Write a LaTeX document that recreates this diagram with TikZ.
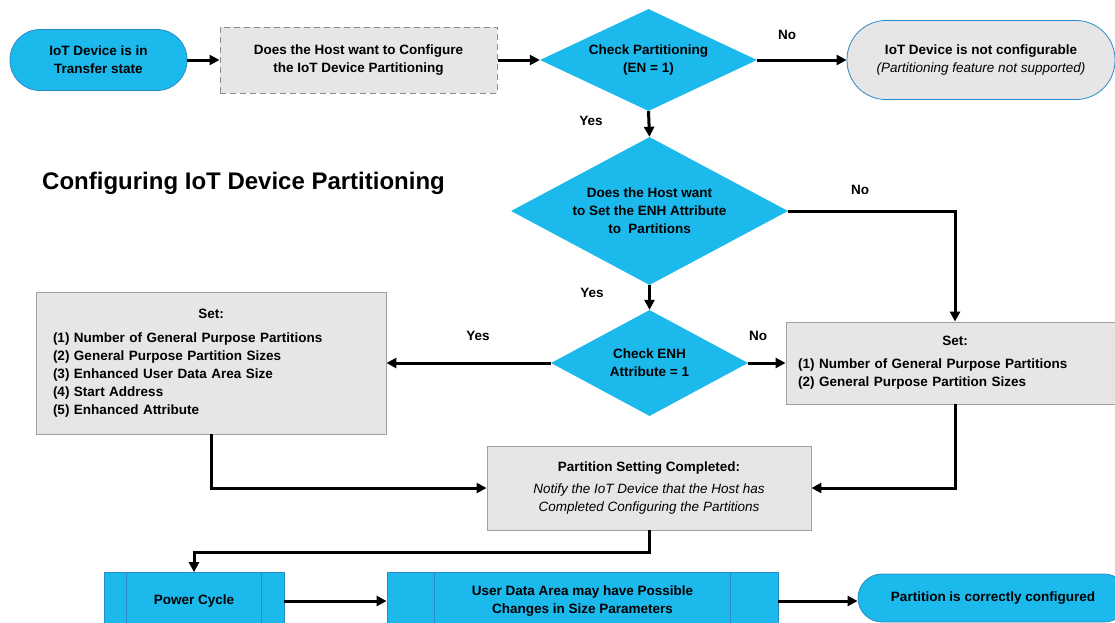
\documentclass[tikz,border=0pt]{standalone}
\usepackage{fontspec}
\setmainfont{Liberation Sans}
\newfontfamily\titlefont{Liberation Sans}
\usetikzlibrary{shapes.geometric,arrows.meta}
\definecolor{cblue}{RGB}{27,185,236}
\definecolor{cblueb}{RGB}{40,140,200}
\definecolor{cgray}{RGB}{230,230,230}
\definecolor{cgrayb}{RGB}{160,160,160}
\definecolor{cdash}{RGB}{140,140,140}
\begin{document}
\begin{tikzpicture}[x=1pt,y=-1pt,
  every node/.style={font=\fontsize{13.5}{18}\selectfont\bfseries, inner sep=0pt},
  term/.style={draw=cblueb, line width=0.8pt, fill=cblue, rounded corners=30pt, align=center},
  gterm/.style={draw=cblueb, line width=0.8pt, fill=cgray, rounded corners=39pt, align=center},
  dbox/.style={draw=cdash, dash pattern=on 6pt off 4pt, line width=1pt, fill=cgray, align=center},
  gbox/.style={draw=cgrayb, line width=0.9pt, fill=cgray},
  dia/.style={diamond, fill=cblue, align=center},
  pbox/.style={draw=cblueb, line width=0.8pt, fill=cblue, align=center},
  conn/.style={line width=3pt, -{Triangle[length=10pt,width=10pt]}},
  lbl/.style={font=\fontsize{13.5}{18}\selectfont\bfseries}
]
\useasboundingbox (0,0) rectangle (1115,622);
\fill[white] (0,0) rectangle (1115,622);
\clip (0,0) rectangle (1115,622);

\node[term, minimum width=177pt, minimum height=61pt] (start) at (98.5,60) {IoT Device is in\\Transfer state};
\node[dbox, minimum width=277pt, minimum height=66pt] (q1) at (358.5,60) {Does the Host want to Configure\\the IoT Device Partitioning};
\node[dia, aspect=2.13, minimum width=217pt, minimum height=102pt] (d1) at (648.5,60) {Check Partitioning\\(EN = 1)};
\node[gterm, minimum width=268pt, minimum height=79pt] (nc) at (981,60) {IoT Device is not configurable\\{\mdseries\itshape (Partitioning feature not supported)}};

\node[anchor=base west, font=\titlefont\fontsize{24}{28}\selectfont\bfseries] (title) at (42,189) {Configuring IoT Device Partitioning};

\node[dia, aspect=1.87, minimum width=277pt, minimum height=148pt] (d2) at (649.5,211) {Does the Host want\\to Set the ENH Attribute\\to~~Partitions};
\node[dia, aspect=1.86, minimum width=197pt, minimum height=106pt] (d3) at (649.5,363) {Check ENH\\Attribute = 1};

\node[gbox, minimum width=350pt, minimum height=142pt, text width=316pt] (lset) at (211,363)
 {\centering Set:\par\vspace{6pt}\raggedright (1) Number of General Purpose Partitions\par (2) General Purpose Partition Sizes\par (3) Enhanced User Data Area Size\par (4) Start Address\par (5) Enhanced Attribute\par};
\node[gbox, minimum width=338pt, minimum height=82pt, text width=314pt] (rset) at (955,363)
 {\centering Set:\par\vspace{5pt}\raggedright (1) Number of General Purpose Partitions\par (2) General Purpose Partition Sizes\par};

\node[gbox, minimum width=324pt, minimum height=84pt, align=center] (comp) at (649,488)
 {Partition Setting Completed:\\[4pt]{\mdseries\itshape Notify the IoT Device that the Host has}\\{\mdseries\itshape Completed Configuring the Partitions}};

\node[pbox, minimum width=180pt, minimum height=57pt] (pc) at (194,601) {Power Cycle};
\draw[cblueb, line width=0.8pt] ([xshift=23pt]pc.north west) -- ([xshift=23pt]pc.south west);
\draw[cblueb, line width=0.8pt] ([xshift=-23pt]pc.north east) -- ([xshift=-23pt]pc.south east);
\node[pbox, minimum width=391pt, minimum height=57pt] (ud) at (582.5,601) {User Data Area may have Possible\\Changes in Size Parameters};
\draw[cblueb, line width=0.8pt] ([xshift=48pt]ud.north west) -- ([xshift=48pt]ud.south west);
\draw[cblueb, line width=0.8pt] ([xshift=-48pt]ud.north east) -- ([xshift=-48pt]ud.south east);
\node[term, minimum width=270pt, minimum height=48pt, rounded corners=24pt] (fin) at (993,598) {Partition is correctly configured};

\draw[conn] (start.east) -- (q1.west);
\draw[conn] (q1.east) -- (d1.west);
\draw[conn] (d1.east) -- (nc.west);
\draw[conn] (d1.south) -- (d2.north);
\draw[conn] (d2.east) -| (rset.north);
\draw[conn] (d2.south) -- (d3.north);
\draw[conn] (d3.west) -- (lset.east);
\draw[conn] (d3.east) -- (rset.west);
\draw[conn] (lset.south) |- (comp.west);
\draw[conn] (rset.south) |- (comp.east);
\draw[conn] (comp.south) -- ++(0,22) -| (pc.north);
\draw[conn] (pc.east) -- (ud.west);
\draw[conn] (ud.east) -- (ud.east -| fin.west);

\node[lbl] (l1) at (787,35) {No};
\node[lbl] (l2) at (591,121) {Yes};
\node[lbl] (l3) at (860,190) {No};
\node[lbl] (l4) at (592,293) {Yes};
\node[lbl] (l5) at (478,336) {Yes};
\node[lbl] (l6) at (758,336) {No};
\end{tikzpicture}
\end{document}
